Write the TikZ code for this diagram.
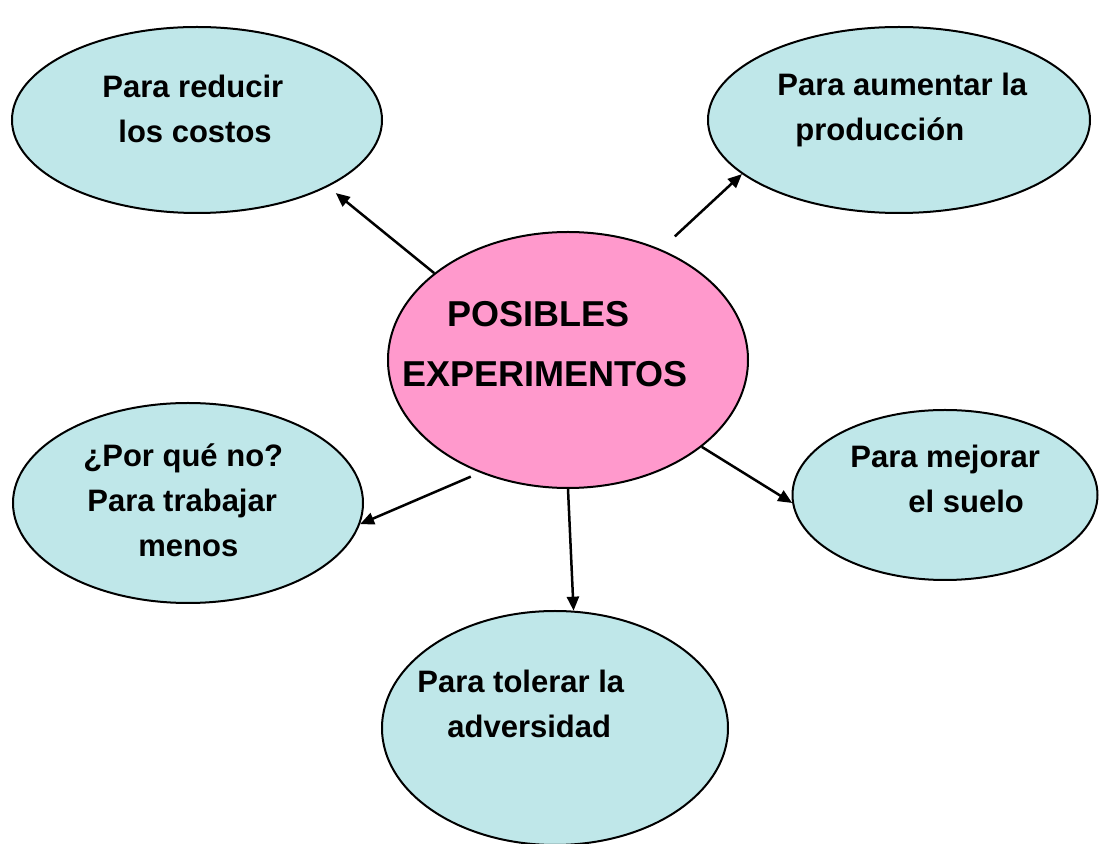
\documentclass[tikz,border=0pt]{standalone}
\usepackage{fontspec}
\setmainfont{Liberation Sans}
\usetikzlibrary{shapes.geometric,arrows.meta}

\newlength{\du}
\setlength{\du}{0.5pt}

\definecolor{ideacolor}{rgb}{0.749, 0.906, 0.914}
\definecolor{corecolor}{rgb}{1.000, 0.600, 0.800}

\tikzset{
  idea/.style={ellipse, draw=black, line width=1pt, fill=ideacolor, inner sep=0pt},
  core/.style={idea, fill=corecolor},
  ideatext/.style={anchor=base west, align=left, inner sep=0pt,
    font=\fontsize{15.5}{22.5}\selectfont\bfseries},
  coretext/.style={ideatext, font=\fontsize{18}{30}\selectfont\bfseries},
  link/.style={line width=1.25pt, -{Triangle[length=7pt,width=6pt]}}
}

\begin{document}
\begin{tikzpicture}
\pgftransformyscale{-1.000000}
\useasboundingbox (0\du,0\du) rectangle (1100\du,844\du);
% ellipses
\node[core, minimum width=360\du, minimum height=256\du] (posibles) at (568\du,360\du) {};
\node[idea, minimum width=370\du, minimum height=186\du] (costos) at (197\du,120\du) {};
\node[idea, minimum width=382\du, minimum height=186\du] (produccion) at (899\du,120\du) {};
\node[idea, minimum width=350\du, minimum height=200\du] (trabajar) at (188\du,503\du) {};
\node[idea, minimum width=305\du, minimum height=170\du] (suelo) at (945\du,495\du) {};
\node[idea, minimum width=346\du, minimum height=234\du] (adversidad) at (555\du,728\du) {};
% texts (base = last line)
\node[coretext] (posiblestxt) at (402\du,387\du) {\hspace*{45\du}POSIBLES\\EXPERIMENTOS};
\node[ideatext] (costostxt) at (102\du,143\du) {Para reducir\\\hspace*{16\du}los costos};
\node[ideatext] (producciontxt) at (777\du,141\du) {Para aumentar la\\\hspace*{18\du}producción};
\node[ideatext] (trabajartxt) at (83\du,557\du) {¿Por qué no?\\\hspace*{4\du}Para trabajar\\\hspace*{55\du}menos};
\node[ideatext] (suelotxt) at (850\du,513\du) {Para mejorar\\\hspace*{58\du}el suelo};
\node[ideatext] (adversidadtxt) at (417\du,738\du) {Para tolerar la\\\hspace*{30\du}adversidad};
% arrows
\draw[link, shorten >=10\du] (posibles.147) -- (costos.-27);
\draw[link, shorten <=19\du] (posibles.50) -- (produccion.199);
\draw[link] (posibles.-33) -- (suelo.183);
\draw[link] (posibles.-90) -- (adversidad.81);
\draw[link, shorten <=10\du] (posibles.232) -- (trabajar.-7);
\end{tikzpicture}
\end{document}
